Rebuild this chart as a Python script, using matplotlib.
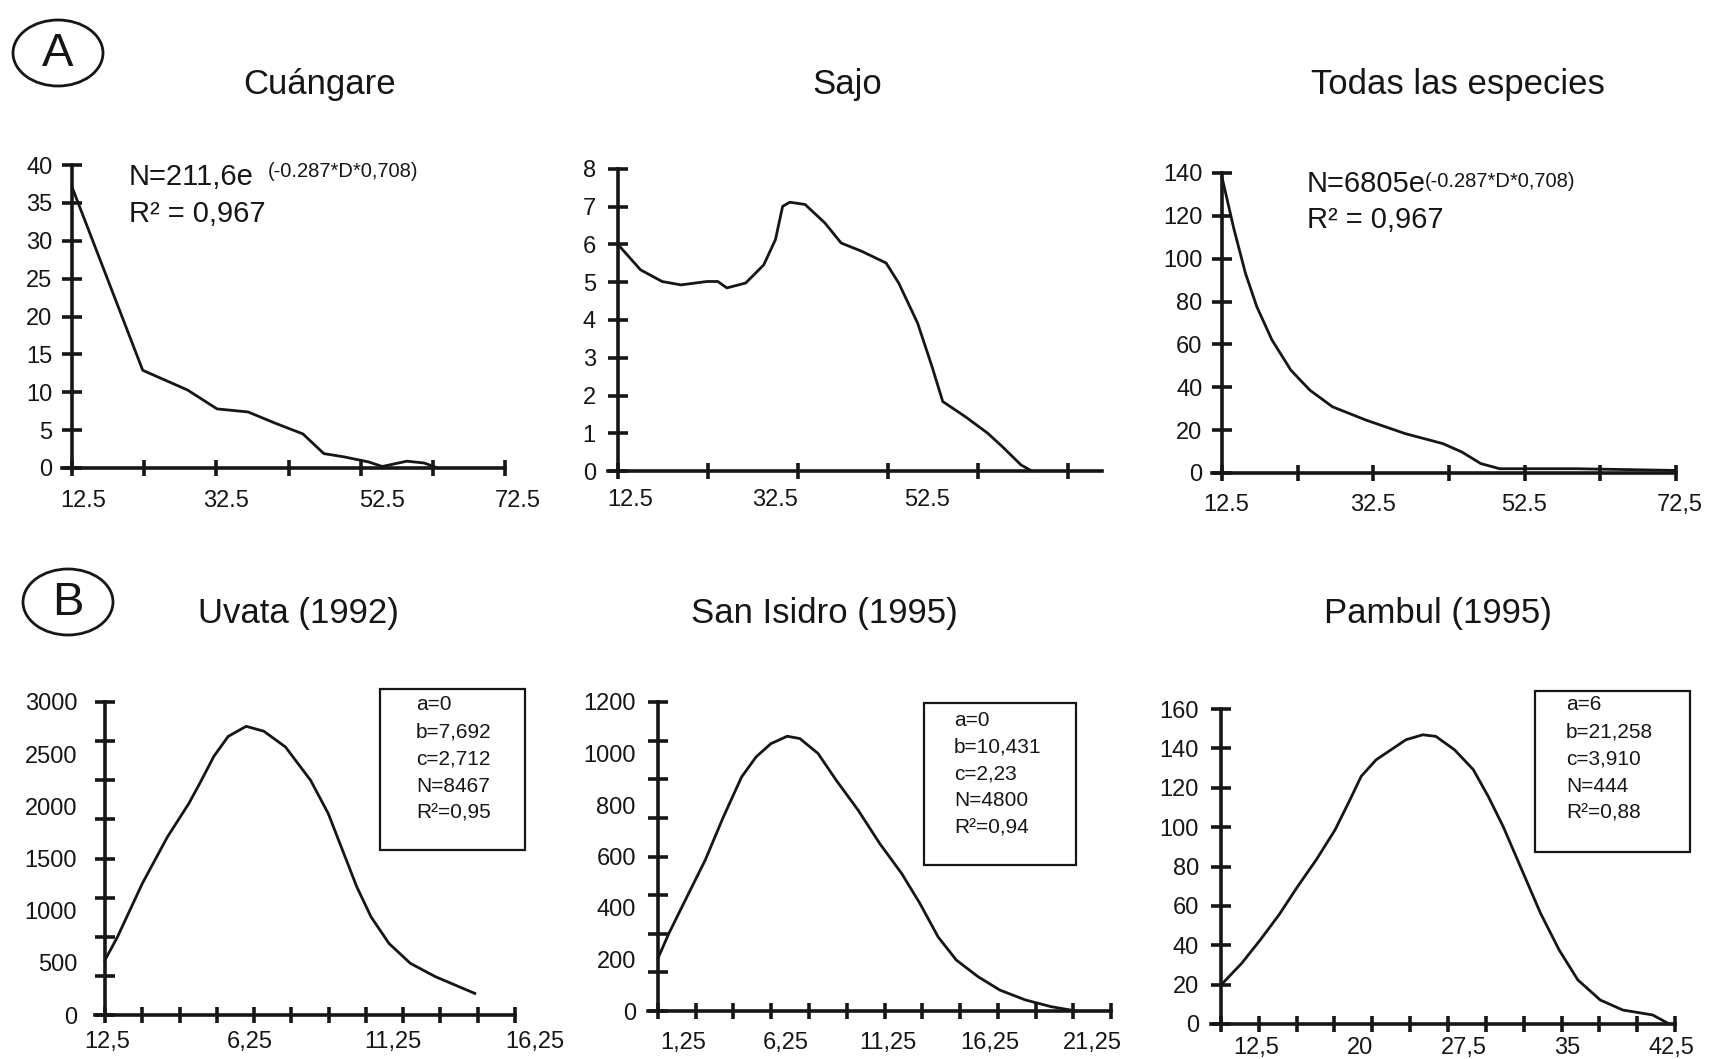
import matplotlib.pyplot as plt
from matplotlib.patches import Ellipse, Rectangle

plt.rcParams['font.family'] = ['Liberation Sans', 'DejaVu Sans']

W, H = 1715, 1059

# ---- data ----
titles = ['Cuángare', 'Sajo', 'Todas las especies',
          'Uvata (1992)', 'San Isidro (1995)', 'Pambul (1995)']

cuangare_x = [12.5, 22.3, 28.5, 32.6, 36.9, 40.7, 44.5, 47.4, 50.3, 53.6, 55.5, 58.9, 61.3, 63.2]
cuangare_y = [37.1, 12.9, 10.3, 7.8, 7.4, 5.9, 4.5, 1.9, 1.45, 0.8, 0.2, 0.9, 0.66, 0.0]

sajo_x = [12.5, 15.0, 17.4, 19.5, 22.4, 23.6, 24.6, 26.7, 28.7, 30.0, 30.8, 31.6, 33.3,
          35.5, 37.3, 39.6, 42.3, 43.7, 45.8, 47.4, 48.6, 51.1, 53.6, 55.2, 57.3, 58.5]
sajo_y = [6.0, 5.33, 5.02, 4.93, 5.02, 5.02, 4.85, 4.98, 5.46, 6.13, 7.01, 7.12, 7.06,
          6.57, 6.04, 5.82, 5.51, 4.98, 3.92, 2.77, 1.84, 1.44, 1.0, 0.65, 0.16, 0.0]

todas_x = [12.5, 14.1, 15.6, 17.1, 19.1, 21.6, 24.1, 27.1, 31.6, 36.7, 41.7, 44.2, 46.7,
           49.2, 52.2, 59.2, 72.5]
todas_y = [138, 113.5, 93.2, 77.6, 62.1, 48.0, 38.7, 30.9, 24.6, 18.4, 13.7, 9.8, 4.4,
           2.0, 2.0, 2.0, 1.2]

uvata_x = [1.17, 1.61, 2.48, 3.36, 4.11, 4.49, 4.99, 5.49, 6.12, 6.74, 7.5, 8.38, 9.0,
           9.5, 10.0, 10.5, 11.13, 11.88, 12.76, 14.14]
uvata_y = [527, 750, 1261, 1707, 2027, 2218, 2480, 2670, 2767, 2720, 2569, 2250, 1931,
           1580, 1229, 941, 686, 495, 367, 207]

isidro_x = [0, 0.53, 1.42, 2.31, 3.2, 4.09, 4.8, 5.52, 6.32, 6.94, 7.83, 8.72, 9.79,
            10.85, 11.92, 12.81, 13.7, 14.59, 15.66, 16.73, 17.97, 19.22, 20.46]
isidro_y = [205, 301, 444, 586, 754, 909, 987, 1038, 1067, 1058, 1000, 896, 780,
            650, 534, 418, 288, 198, 133, 81, 43, 17, 0]

pambul_x = [9.93, 11.42, 12.77, 14.12, 15.47, 16.82, 18.18, 19.26, 20.07, 21.15, 22.23,
            23.31, 24.53, 25.47, 26.82, 28.18, 29.26, 30.34, 31.69, 33.04, 34.39, 35.74,
            37.36, 38.99, 41.15, 42.36]
pambul_y = [19.8, 30.8, 42.7, 55.4, 69.8, 83.4, 98.6, 113.9, 125.8, 134.2, 139.3,
            144.4, 146.9, 146.1, 139.3, 129.2, 115.6, 100.3, 78.3, 56.3, 37.6, 22.4,
            12.2, 7.1, 4.6, 0]

# tick labels as printed (x label spots measured on the scan)
a1_xlab = ['12.5', '32.5', '52.5', '72.5']
a1_xlab_at = [14.1, 33.9, 55.4, 74.3]
a2_xlab = ['12.5', '32.5', '52.5']
a2_xlab_at = [13.9, 30.0, 46.8]
a3_xlab = ['12.5', '32.5', '52.5', '72,5']
a3_xlab_at = [13.1, 32.4, 52.4, 73.0]
b1_xlab = ['12,5', '6,25', '11,25', '16,25']
b1_xlab_at = [1.25, 6.25, 11.25, 16.25]
b2_xlab = ['1,25', '6,25', '11,25', '16,25', '21,25']
b2_xlab_at = [1.25, 6.25, 11.25, 16.25, 21.25]
b3_xlab = ['12,5', '20', '27,5', '35', '42,5']
b3_xlab_at = [12.5, 20, 27.5, 35, 42.5]

a1_ylab = list(range(0, 41, 5))
a2_ylab = list(range(0, 9))
a3_ylab = list(range(0, 141, 20))
b1_ylab = list(range(0, 3001, 500))
b2_ylab = list(range(0, 1201, 200))
b3_ylab = list(range(0, 161, 20))

b1_box = ['a=0', 'b=7,692', 'c=2,712', 'N=8467', 'R²=0,95']
b2_box = ['a=0', 'b=10,431', 'c=2,23', 'N=4800', 'R²=0,94']
b3_box = ['a=6', 'b=21,258', 'c=3,910', 'N=444', 'R²=0,88']

fig = plt.figure(figsize=(W / 100, H / 100), dpi=100)
fig.patch.set_facecolor('white')

INK = '#161616'


def fx(x):
    return x / W


def fy(y):
    return 1 - y / H


def panel(rect, xspan, yspan, xs, ys, xmarks, xlab_at, xlab, ymarks, ylab, xpad, ypad):
    # rect = pixel spots of the y axis, x axis end, x axis and y axis top
    left, right, bottom, top = rect
    ppu = (right - left) / (xspan[1] - xspan[0])
    ax = fig.add_axes([fx(left - 14), fy(bottom), (right - left + 60) / W, (bottom - top) / H])
    ax.set_xlim(xspan[0] - 14 / ppu, xspan[1] + 46 / ppu)
    ax.set_ylim(*yspan)
    ax.patch.set_visible(False)
    ax.spines[['top', 'right']].set_visible(False)
    ax.spines['left'].set_position(('data', xspan[0]))
    ax.spines['bottom'].set_bounds(xspan[0] - 10 / ppu, xspan[1])
    for s in ('left', 'bottom'):
        ax.spines[s].set_linewidth(2.6)
        ax.spines[s].set_color(INK)
    ax.plot(xs, ys, color=INK, lw=2.0, clip_on=False, solid_joinstyle='round')

    ax.xaxis.remove_overlapping_locs = False
    ax.yaxis.remove_overlapping_locs = False
    ax.set_xticks(xlab_at, xlab)
    ax.set_xticks(xmarks, minor=True)
    ax.set_yticks(ylab, [str(v) for v in ylab])
    ax.set_yticks(ymarks, minor=True)
    ax.tick_params(axis='x', which='major', length=0, pad=xpad, labelsize=17, labelcolor=INK)
    ax.tick_params(axis='y', which='major', length=0, pad=ypad, labelsize=17, labelcolor=INK)
    ax.tick_params(axis='x', which='minor', length=12, width=2.6, direction='inout', color=INK)
    ax.tick_params(axis='y', which='minor', length=14, width=2.6, direction='inout', color=INK)
    return ax


def even(a, b, n):
    return [a + (b - a) * i / n for i in range(n + 1)]


panel((72, 505, 468, 165), (12.5, 72.5), (0, 40), cuangare_x, cuangare_y,
      even(12.5, 72.5, 6), a1_xlab_at, a1_xlab, a1_ylab, a1_ylab, 15.5, 14)
panel((618, 1102, 471, 169), (12.5, 66.3), (0, 8), sajo_x, sajo_y,
      even(12.5, 62.5, 5), a2_xlab_at, a2_xlab, a2_ylab, a2_ylab, 13, 16)
panel((1222, 1676, 473, 173), (12.5, 72.5), (0, 140), todas_x, todas_y,
      even(12.5, 72.5, 6), a3_xlab_at, a3_xlab, a3_ylab, a3_ylab, 15, 14)
panel((105, 515, 1015, 702), (1.17, 15.55), (0, 3000), uvata_x, uvata_y,
      even(1.17, 15.55, 11), b1_xlab_at, b1_xlab, even(0, 3000, 8), b1_ylab, 11.7, 20)
panel((658, 1111, 1011, 702), (0, 22.16), (0, 1200), isidro_x, isidro_y,
      even(0, 22.16, 12), b2_xlab_at, b2_xlab, even(0, 1200, 8), b2_ylab, 15.3, 16)
panel((1221, 1675, 1024, 709), (9.93, 42.77), (0, 160), pambul_x, pambul_y,
      even(9.93, 42.77, 12), b3_xlab_at, b3_xlab, b3_ylab, b3_ylab, 9.7, 16)

# panel titles
title_spots = [(320, 94), (847, 94), (1458, 94), (298, 623), (824, 623), (1438, 623)]
for t, (x, y) in zip(titles, title_spots):
    fig.text(fx(x), fy(y), t, ha='center', va='baseline', fontsize=25, color=INK)

# circled section letters
for letter, (x, y) in [('A', (58, 53)), ('B', (68, 602))]:
    fig.add_artist(Ellipse((fx(x), fy(y)), 90 / W, 66 / H, transform=fig.transFigure,
                           fill=False, lw=2, color=INK))
    fig.text(fx(x), fy(y + 1), letter, ha='center', va='center', fontsize=34, color=INK)

# fitted equations, panel A
fig.text(fx(129), fy(185), 'N=211,6e', fontsize=21, color=INK)
fig.text(fx(268), fy(177), '(-0.287*D*0,708)', fontsize=14.5, color=INK)
fig.text(fx(129), fy(222), 'R² = 0,967', fontsize=21, color=INK)
fig.text(fx(1307), fy(192), 'N=6805e', fontsize=21, color=INK)
fig.text(fx(1425), fy(187), '(-0.287*D*0,708)', fontsize=14.5, color=INK)
fig.text(fx(1307), fy(228), 'R² = 0,967', fontsize=21, color=INK)

# parameter boxes, panel B
boxes = [((380, 689, 525, 850), 416, 705, b1_box),
         ((924, 703, 1076, 865), 954, 720, b2_box),
         ((1535, 691, 1690, 852), 1566, 705, b3_box)]
for (x0, y0, x1, y1), tx, ty, lines in boxes:
    fig.add_artist(Rectangle((fx(x0), fy(y1)), (x1 - x0) / W, (y1 - y0) / H,
                             transform=fig.transFigure, fill=False, lw=1.6, color=INK))
    for i, s in enumerate(lines):
        fig.text(fx(tx), fy(ty + i * 27), s, ha='left', va='center', fontsize=15, color=INK)

fig.savefig('out.png', dpi=100)
